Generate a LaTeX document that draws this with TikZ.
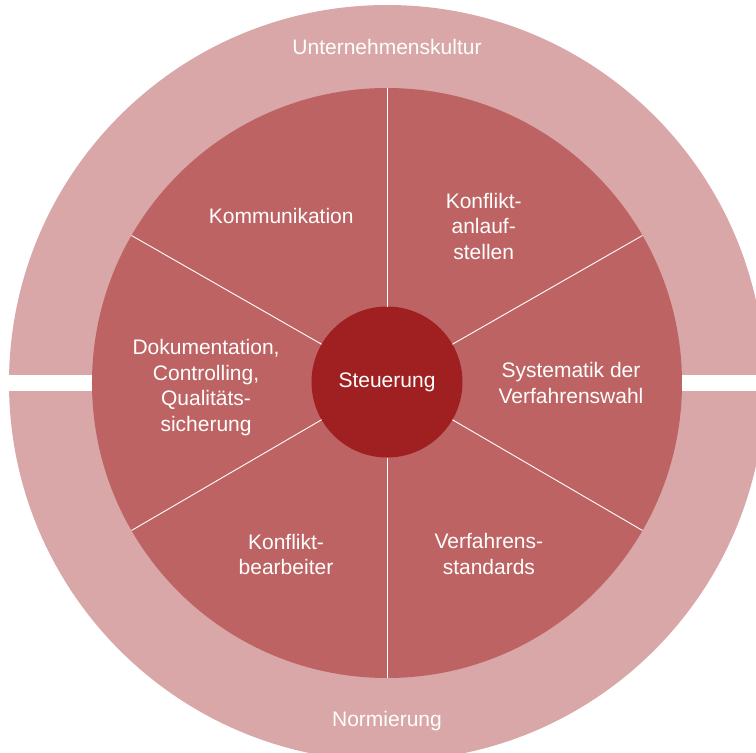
\documentclass[tikz,border=0pt]{standalone}
\usepackage{fontspec}
\setmainfont{Liberation Sans}

\definecolor{ringpink}{RGB}{217,167,167}
\definecolor{sectorred}{RGB}{190,99,99}
\definecolor{coredark}{RGB}{160,31,33}

\begin{document}
\begin{tikzpicture}[x=1pt,y=1pt]

\tikzstyle{ring} = [circle, minimum size=756pt, inner sep=0pt, outer sep=0pt, fill=ringpink]

\tikzstyle{wheel} = [circle, minimum size=590pt, inner sep=0pt, outer sep=0pt, fill=sectorred]

\tikzstyle{core} = [circle, minimum size=151pt, inner sep=0pt, outer sep=0pt, fill=coredark, text=white, font=\fontsize{21}{25.5}\selectfont]

\tikzstyle{lbl} = [text=white, align=center, inner sep=0pt, font=\fontsize{21}{25.5}\selectfont]

\tikzstyle{divider} = [draw=white, line width=0.9pt]

    \useasboundingbox (-387,-370) rectangle (369,383);
    \clip (-387,-370) rectangle (369,383);

    \node [ring] (R) at (0,0) {};
    \fill [white] (-387,-8) rectangle (369,8);
    \node [wheel] (W) at (0,0) {};
    \node [core] (S) at (0,1) {Steuerung};

    \node [lbl] (U) at (0,336) {Unternehmenskultur};
    \node [lbl] (N) at (0,-338) {Normierung};

    \path (W.center) ++(122.3:198) node [lbl] (K1) {Kommunikation};
    \path (W.center) ++(58.3:184) node [lbl] (K2) {Konflikt-\\anlauf-\\stellen};
    \path (W.center) ++(0:184) node [lbl] (K3) {Systematik der\\Verfahrenswahl};
    \path (W.center) ++(-59.2:199) node [lbl] (K4) {Verfahrens-\\standards};
    \path (W.center) ++(-120.5:199) node [lbl] (K5) {Konflikt-\\bearbeiter};
    \path (W.center) ++(181.4:181) node [lbl] (K6) {Dokumentation,\\Controlling,\\Qualitäts-\\sicherung};

    \draw [divider] (S.90) -- (W.90);
    \draw [divider] (S.30) -- (W.30);
    \draw [divider] (S.-30) -- (W.-30);
    \draw [divider] (S.-90) -- (W.-90);
    \draw [divider] (S.-150) -- (W.-150);
    \draw [divider] (S.150) -- (W.150);
\end{tikzpicture}
\end{document}
